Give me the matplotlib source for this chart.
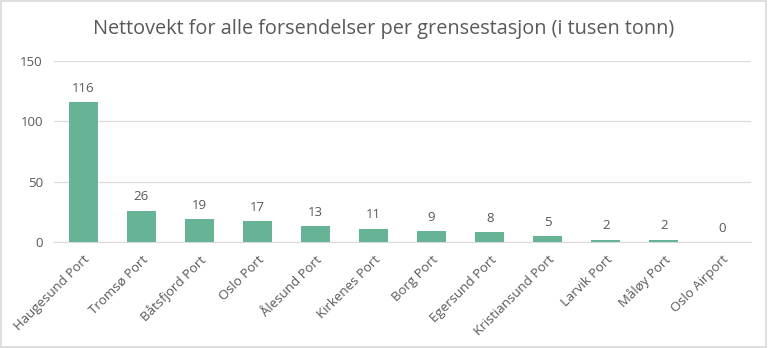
import matplotlib.pyplot as plt
import numpy as np

stations = ['Haugesund Port', 'Tromsø Port', 'Båtsfjord Port', 'Oslo Port', 'Ålesund Port',
            'Kirkenes Port', 'Borg Port', 'Egersund Port', 'Kristiansund Port', 'Larvik Port',
            'Måløy Port', 'Oslo Airport']
values = [116, 26, 19, 17, 13, 11, 9, 8, 5, 2, 2, 0]
yticks = [0, 50, 100, 150]

plt.rcParams['font.family'] = ['Open Sans', 'DejaVu Sans']
grey = '#595959'

fig = plt.figure(figsize=(7.68, 3.48), dpi=100)
ax = fig.add_axes([0.0703, 0.3046, 0.9077, 0.5201])
x = np.arange(len(stations))
ax.bar(x, values, width=0.5, color='#66B395', zorder=3)
for xi, v in zip(x, values):
    ax.text(xi, v + 6, str(v), ha='center', va='bottom', fontsize=9.5, color=grey)

ax.set_xlim(-0.5, len(stations) - 0.5)
ax.set_ylim(0, 150)
ax.set_yticks(yticks)
ax.set_yticklabels([str(t) for t in yticks], fontsize=9.5, color=grey)
ax.set_xticks(x)
ax.set_xticklabels(stations, rotation=45, ha='right', rotation_mode='anchor',
                   fontsize=9.5, color=grey)
ax.tick_params(length=0, pad=8)
ax.grid(axis='y', color='#D9D9D9', linewidth=0.8, zorder=0)
for s in ['top', 'right', 'left']:
    ax.spines[s].set_visible(False)
ax.spines['bottom'].set_color('#D9D9D9')

fig.text(0.5, 0.918, 'Nettovekt for alle forsendelser per grensestasjon (i tusen tonn)',
         ha='center', va='center', fontsize=14.3, color=grey)
fig.patches.append(plt.Rectangle((0.001, 0.002), 0.997, 0.995, transform=fig.transFigure,
                                 fill=False, edgecolor='#D9D9D9', linewidth=1.2))

fig.savefig('out.png', dpi=100)
